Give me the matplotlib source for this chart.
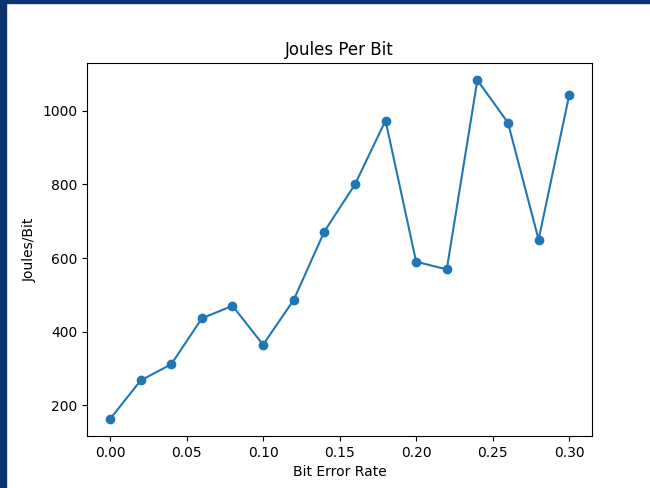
import matplotlib
matplotlib.use("Agg")
import matplotlib.pyplot as plt
from matplotlib.patches import Rectangle

# bit error rate vs energy per bit
ber = [0.00, 0.02, 0.04, 0.06, 0.08, 0.10, 0.12, 0.14,
       0.16, 0.18, 0.20, 0.22, 0.24, 0.26, 0.28, 0.30]
joules_per_bit = [162, 267, 311, 436, 470, 364, 486, 672,
                  800, 974, 590, 569, 1084, 968, 650, 1043]

fig = plt.figure(figsize=(6.5, 4.88), dpi=100)
ax = fig.add_axes([0.134, 0.1066, 0.777, 0.764])

ax.plot(ber, joules_per_bit, marker='o', color='#1f77b4')
ax.set_title('Joules Per Bit')
ax.set_xlabel('Bit Error Rate')
ax.set_ylabel('Joules/Bit')
ax.set_xticks([0.00, 0.05, 0.10, 0.15, 0.20, 0.25, 0.30])
ax.set_yticks([200, 400, 600, 800, 1000])

# dark frame along top and left edge of the screenshot
fig.patches.append(Rectangle((0, 1 - 3 / 488), 1, 3 / 488, transform=fig.transFigure,
                             color='#0d3270', zorder=10))
fig.patches.append(Rectangle((0, 0), 6 / 650, 1, transform=fig.transFigure,
                             color='#0d3270', zorder=10))

fig.savefig('out.png', dpi=100)
